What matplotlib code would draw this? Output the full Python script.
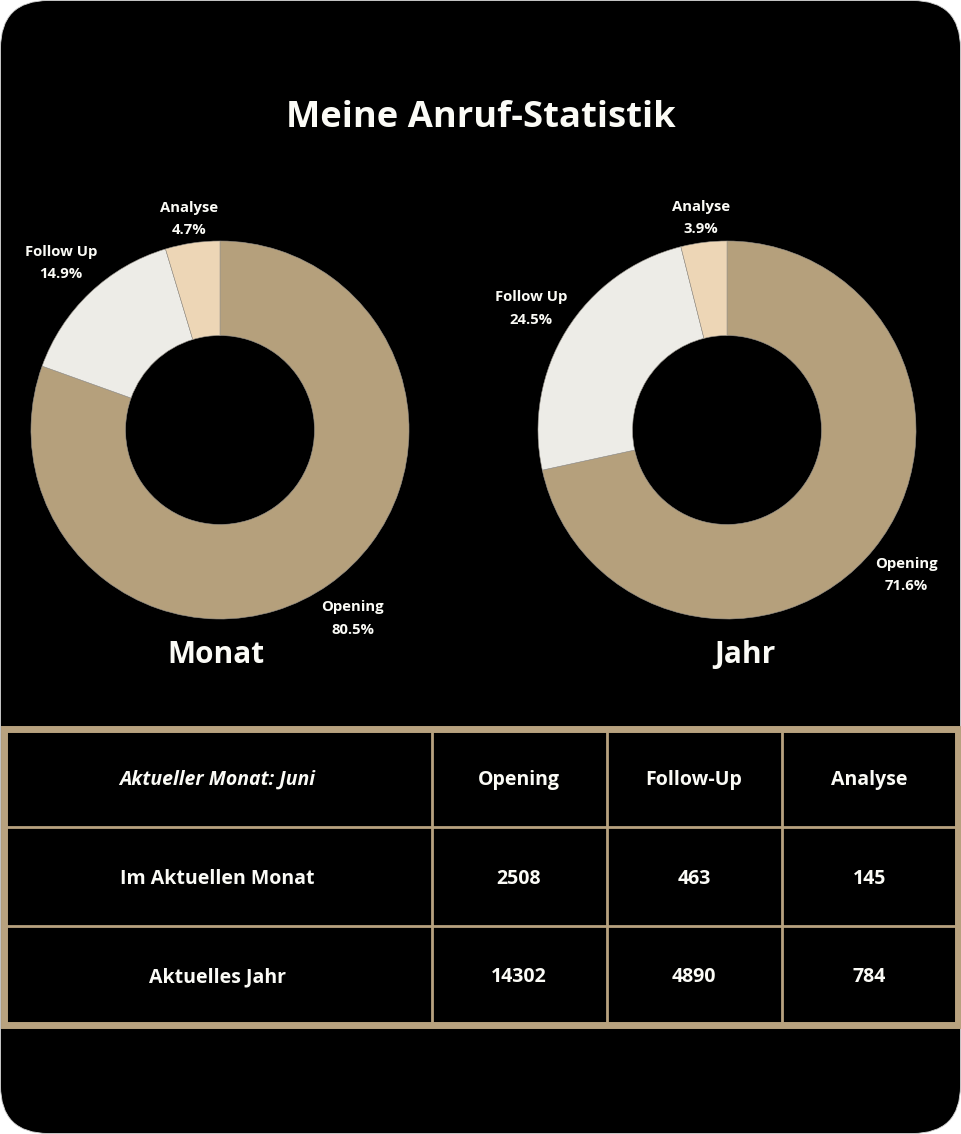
import numpy as np
import matplotlib
matplotlib.use("Agg")
import matplotlib.pyplot as plt
from matplotlib.patches import FancyBboxPatch, Rectangle

# ---------------- data ----------------
title = "Meine Anruf-Statistik"
categories = ["Opening", "Follow Up", "Analyse"]
monat_values = [2508, 463, 145]
jahr_values = [14302, 4890, 784]
chart_titles = ["Monat", "Jahr"]

table_header = ["Aktueller Monat: Juni", "Opening", "Follow-Up", "Analyse"]
row_labels = ["Im Aktuellen Monat", "Aktuelles Jahr"]
row_values = [[2508, 463, 145], [14302, 4890, 784]]

# ---------------- style ----------------
W, H = 961, 1134
FONT = ["Open Sans", "DejaVu Sans"]
plt.rcParams["font.family"] = FONT
colors = ["#b5a07c", "#edece7", "#edd6b6"]
border = "#b8a27f"
white = "#fbfbf6"

fig = plt.figure(figsize=(W / 100, H / 100), dpi=100, facecolor="white")
bg = fig.add_axes([0, 0, 1, 1])
bg.set_xlim(0, W)
bg.set_ylim(H, 0)
bg.axis("off")
bg.add_patch(FancyBboxPatch((0.5, 0.5), W - 1, H - 1,
                            boxstyle="round,pad=0,rounding_size=48",
                            facecolor="black", edgecolor="#d0d0d0", lw=0.6))

bg.text(W / 2, 127, title, color=white, fontsize=26.2, fontweight="bold",
        ha="center", va="baseline")

# ---------------- donuts ----------------
centers = [(220, 430), (727, 430)]
R = 189
title_pos = [(216, 663), (745, 663)]
for vals, (cx, cy), name, (tx, ty) in zip([monat_values, jahr_values], centers,
                                           chart_titles, title_pos):
    ax = fig.add_axes([(cx - R) / W, 1 - (cy + R) / H, 2 * R / W, 2 * R / H])
    wedges, _ = ax.pie(vals, colors=colors, startangle=90, counterclock=False,
                       radius=1.0, wedgeprops=dict(width=0.5, edgecolor="#9a958d",
                                                   linewidth=0.4))
    ax.set_xlim(-1, 1)
    ax.set_ylim(-1, 1)
    ax.set_aspect("equal")
    ax.axis("off")
    total = sum(vals)
    for w, cat, v in zip(wedges, categories, vals):
        ang = np.deg2rad((w.theta1 + w.theta2) / 2)
        c, s = np.cos(ang), np.sin(ang)
        d = 1.22 if abs(c) > 0.3 else 1.13
        ax.text(d * c, d * s, f"{cat}\n{v / total * 100:.1f}%", color=white,
                fontsize=10.7, fontweight="bold", ha="center", va="center",
                linespacing=1.75, clip_on=False)
    bg.text(tx, ty, name, color=white, fontsize=21.5, fontweight="bold",
            ha="center", va="baseline")

# ---------------- table ----------------
col_edges = [3.5, 431.5, 606.5, 781.5, 957.5]
row_edges = [728.5, 826.5, 925.5, 1024.5]
for x in col_edges[1:-1]:
    bg.plot([x, x], [row_edges[0], row_edges[-1]], color=border, lw=2.0,
            solid_capstyle="butt")
for y in row_edges[1:-1]:
    bg.plot([col_edges[0], col_edges[-1]], [y, y], color=border, lw=2.0,
            solid_capstyle="butt")
bg.add_patch(Rectangle((col_edges[0], row_edges[0]), col_edges[-1] - col_edges[0],
                       row_edges[-1] - row_edges[0], fill=False,
                       edgecolor=border, lw=5.0, joinstyle="miter"))

col_c = [(col_edges[i] + col_edges[i + 1]) / 2 for i in range(4)]
row_c = [(row_edges[i] + row_edges[i + 1]) / 2 + 2.5 for i in range(3)]
for j, h in enumerate(table_header):
    bg.text(col_c[j], row_c[0], h, color=white, fontsize=14, fontweight="bold",
            style="italic" if j == 0 else "normal", ha="center", va="center")
for i, (lab, vals) in enumerate(zip(row_labels, row_values)):
    bg.text(col_c[0], row_c[i + 1], lab, color=white, fontsize=14,
            fontweight="bold", ha="center", va="center")
    for j, v in enumerate(vals):
        bg.text(col_c[j + 1], row_c[i + 1], str(v), color=white, fontsize=14,
                fontweight="bold", ha="center", va="center")

fig.savefig("out.png", dpi=100, facecolor="white")
